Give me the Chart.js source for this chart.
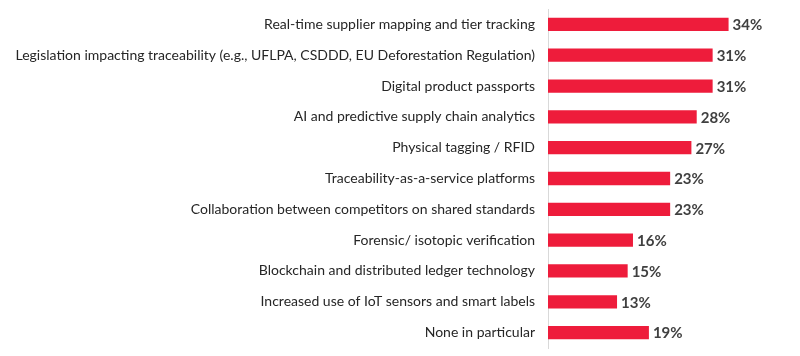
<!DOCTYPE html>
<html><head><meta charset="utf-8">
<script src="https://cdn.jsdelivr.net/npm/chart.js@4"></script>
<style>html,body{margin:0;padding:0;background:#fff}#w{width:800px;height:356px;position:relative}</style>
</head><body><div id="w"><canvas id="c"></canvas></div>
<script>
const categories = [
  "Real-time supplier mapping and tier tracking",
  "Legislation impacting traceability (e.g., UFLPA, CSDDD, EU Deforestation Regulation)",
  "Digital product passports",
  "AI and predictive supply chain analytics",
  "Physical tagging / RFID",
  "Traceability-as-a-service platforms",
  "Collaboration between competitors on shared standards",
  "Forensic/ isotopic verification",
  "Blockchain and distributed ledger technology",
  "Increased use of IoT sensors and smart labels",
  "None in particular"
];
const values = [34, 31, 31, 28, 27, 23, 23, 16, 15, 13, 19];

const valueLabels = {
  id: 'valueLabels',
  afterDatasetsDraw(chart) {
    const ctx = chart.ctx;
    const meta = chart.getDatasetMeta(0);
    ctx.save();
    ctx.font = 'bold 15px Lato, "Open Sans", sans-serif';
    ctx.fillStyle = '#404040';
    ctx.textBaseline = 'middle';
    ctx.textAlign = 'left';
    meta.data.forEach((bar, i) => {
      ctx.fillText(values[i] + '%', bar.x + 4, bar.y + 1);
    });
    ctx.restore();
  }
};

new Chart(document.getElementById('c'), {
  type: 'bar',
  data: {
    labels: categories,
    datasets: [{
      data: values,
      backgroundColor: '#EE1C3B',
      borderWidth: 0,
      barPercentage: 0.43,
      categoryPercentage: 1
    }]
  },
  options: {
    indexAxis: 'y',
    responsive: true,
    maintainAspectRatio: false,
    animation: false,
    layout: { padding: { top: 9, bottom: 8, right: 13, left: 0 } },
    plugins: { legend: { display: false }, tooltip: { enabled: false } },
    scales: {
      x: {
        min: 0, max: 45,
        display: false,
        grid: { display: false }
      },
      y: {
        afterFit(scale) { scale.width = 548; scale.paddingTop = 0; scale.paddingBottom = 0; },
        grid: { display: false, drawTicks: false },
        border: { display: true, color: '#D9D9D9', width: 1 },
        ticks: {
          color: '#262626',
          padding: 13,
          font: { family: 'Lato, "Open Sans", sans-serif', size: 14 }
        }
      }
    }
  },
  plugins: [valueLabels]
});
</script>
</body></html>
